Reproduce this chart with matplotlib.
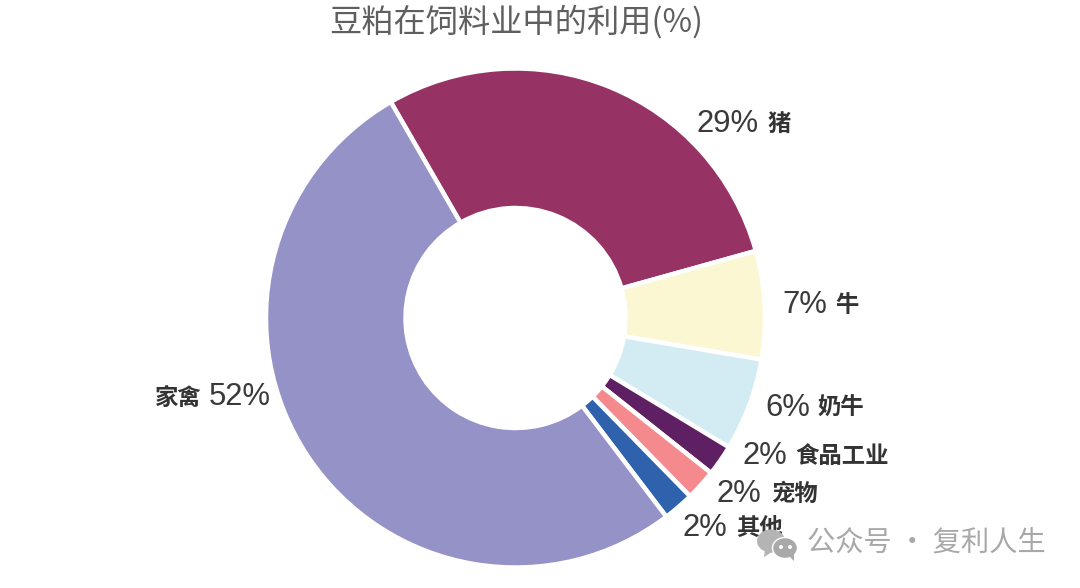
import matplotlib
matplotlib.use("Agg")
import matplotlib.pyplot as plt
from matplotlib.patches import Ellipse, Polygon

LATIN = ['Liberation Sans', 'Noto Sans CJK SC']
CJK = ['Noto Sans CJK SC', 'DejaVu Sans']
plt.rcParams['font.family'] = CJK

title = "豆粕在饲料业中的利用(%)"
categories = ["猪", "牛", "奶牛", "食品工业", "宠物", "其他", "家禽"]
values = [29, 7, 6, 2, 2, 2, 52]
percent_labels = ["29%", "7%", "6%", "2%", "2%", "2%", "52%"]
colors = ["#963364", "#FBF7D3", "#D3ECF3", "#5E1F63", "#F58A8E", "#2E62AC", "#9592C7"]
watermark = "公众号 · 复利人生"

W, H = 1080, 588
fig = plt.figure(figsize=(W/100, H/100), dpi=100, facecolor="white")
ax = fig.add_axes([0, 0, 1, 1])

def Y(y):
    return H - y

cx, cy, R = 515.5, 318, 249.5
ax.pie(values, colors=colors, startangle=120, counterclock=False,
       center=(cx, Y(cy)), radius=R, frame=False,
       wedgeprops=dict(width=R-110, edgecolor="white", linewidth=3.2))
ax.set_xlim(0, W); ax.set_ylim(0, H); ax.set_aspect("equal"); ax.axis("off")

ax.text(516, Y(22), title, ha="center", va="center", fontsize=23.2, color="#5f5f5f",
        fontweight="light", family=CJK)

# pixel anchors: (percent left x, label left x, baseline y)
anchors = [(697, 767, 132), (782, 835, 313), (765, 817, 416), (743, 795, 464),
           (717, 771, 502), (682, 736, 536)]
for (px, lx, by), pct, cat in zip(anchors, percent_labels[:6], categories[:6]):
    ax.text(px, Y(by), pct, ha="left", va="baseline", fontsize=22.3, color="#3a3a3a", family=LATIN)
    ax.text(lx, Y(by-1), cat, ha="left", va="baseline", fontsize=16.8, color="#333333",
            fontweight="bold", family=CJK)
ax.text(155, Y(405), categories[6], ha="left", va="baseline", fontsize=16.8, color="#333333",
        fontweight="bold", family=CJK)
ax.text(209, Y(405), percent_labels[6], ha="left", va="baseline", fontsize=22.3, color="#3a3a3a", family=LATIN)

# watermark
gray = "#a8a8a8"
ax.add_patch(Ellipse((771, Y(541)), 28, 23, color="#b4b4b4", lw=0, zorder=5))
ax.add_patch(Polygon([(765, Y(550)), (764, Y(557)), (772, Y(552))], color="#b4b4b4", lw=0, zorder=5))
ax.add_patch(Ellipse((785, Y(548)), 25, 21, facecolor="#a9a9a9", edgecolor="white", lw=1, zorder=6))
ax.add_patch(Polygon([(789, Y(556)), (794, Y(561)), (794, Y(552))], color="#a9a9a9", lw=0, zorder=6))
ax.add_patch(Ellipse((781, Y(547)), 4, 4, color="white", lw=0, zorder=7))
ax.add_patch(Ellipse((790, Y(547)), 4, 4, color="white", lw=0, zorder=7))
ax.text(807, Y(544), watermark, ha="left", va="center", fontsize=20.3, color=gray, family=CJK)

fig.savefig("out.png", dpi=100)
